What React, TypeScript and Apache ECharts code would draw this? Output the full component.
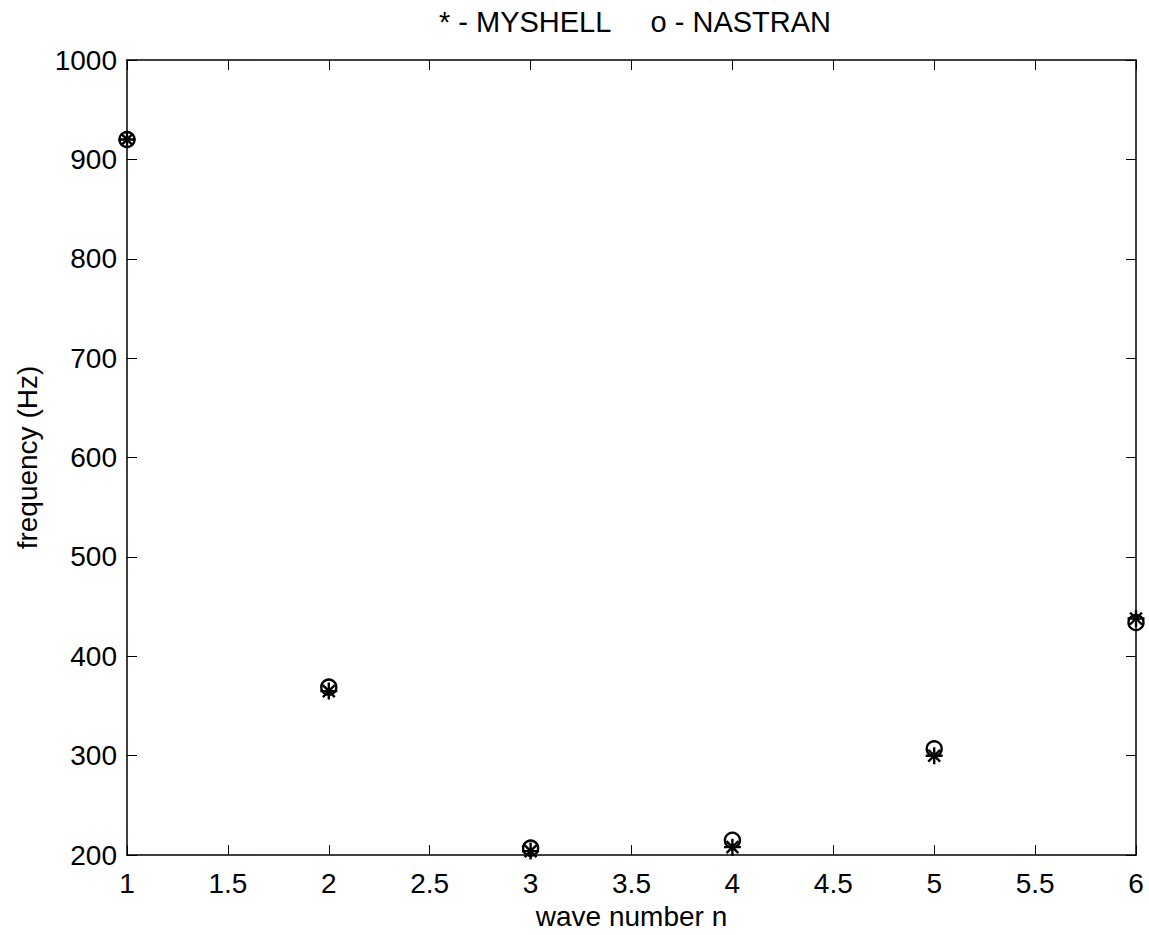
import React, { useEffect, useRef } from "react";
import * as echarts from "echarts";

const waveNumbers = [1, 2, 3, 4, 5, 6];
const myshell = [920, 365, 204, 208, 300, 438];
const nastran = [920, 369, 207, 215, 307, 434];
const xTicks = { min: 1, max: 6, interval: 0.5 };
const yTicks = { min: 200, max: 1000, interval: 100 };

const starPath =
  "path://M0,-10 L0,10 M-10,0 L10,0 M-7,-7 L7,7 M-7,7 L7,-7";

export default function App() {
  const ref = useRef<HTMLDivElement>(null);
  useEffect(() => {
    const chart = echarts.init(ref.current!, undefined, { renderer: "svg" });
    const font = "Liberation Sans, Arial, sans-serif";
    const fs = 28;
    const axisCommon = {
      axisLine: { show: true, onZero: false, lineStyle: { color: "#000", width: 1.5 } },
      axisTick: { show: true, inside: true, length: 10, lineStyle: { color: "#000", width: 1 } },
      splitLine: { show: false },
    };
    chart.setOption({
      animation: false,
      backgroundColor: "#fff",
      title: {
        text: "* - MYSHELL     o - NASTRAN",
        left: 630,
        textAlign: "center",
        top: 2,
        textStyle: { fontFamily: font, fontSize: 29, fontWeight: "normal", color: "#000" },
      },
      grid: { left: 127, right: 13, top: 60, bottom: 78, containLabel: false },
      xAxis: [
        {
          type: "value",
          ...xTicks,
          position: "bottom",
          ...axisCommon,
          axisLabel: { fontFamily: font, fontSize: fs, color: "#000", margin: 14, formatter: (v: number) => String(v) },
          name: "wave number n",
          nameLocation: "middle",
          nameGap: 44,
          nameTextStyle: { fontFamily: font, fontSize: fs, color: "#000" },
        },
        {
          type: "value",
          ...xTicks,
          position: "top",
          ...axisCommon,
          axisLabel: { show: false },
        },
      ],
      yAxis: [
        {
          type: "value",
          ...yTicks,
          position: "left",
          ...axisCommon,
          axisLabel: { fontFamily: font, fontSize: fs, color: "#000", margin: 10, formatter: (v: number) => String(v) },
          name: "frequency (Hz)",
          nameLocation: "middle",
          nameGap: 86,
          nameTextStyle: { fontFamily: font, fontSize: fs, color: "#000" },
        },
        {
          type: "value",
          ...yTicks,
          position: "right",
          ...axisCommon,
          axisLabel: { show: false },
        },
      ],
      series: [
        {
          name: "MYSHELL",
          type: "scatter",
          data: waveNumbers.map((n, i) => [n, myshell[i]]),
          symbol: starPath,
          symbolSize: 17,
          itemStyle: { color: "rgba(0,0,0,0)", borderColor: "#000", borderWidth: 2.4, opacity: 1 },
          z: 5,
        },
        {
          name: "NASTRAN",
          type: "scatter",
          data: waveNumbers.map((n, i) => [n, nastran[i]]),
          symbol: "circle",
          symbolSize: 15,
          itemStyle: { color: "rgba(0,0,0,0)", opacity: 1, borderColor: "#000", borderWidth: 2.4 },
          z: 4,
        },
      ],
    });
    return () => chart.dispose();
  }, []);
  return <div ref={ref} style={{ width: 1149, height: 935, position: "absolute", left: 0, top: 0 }} />;
}
